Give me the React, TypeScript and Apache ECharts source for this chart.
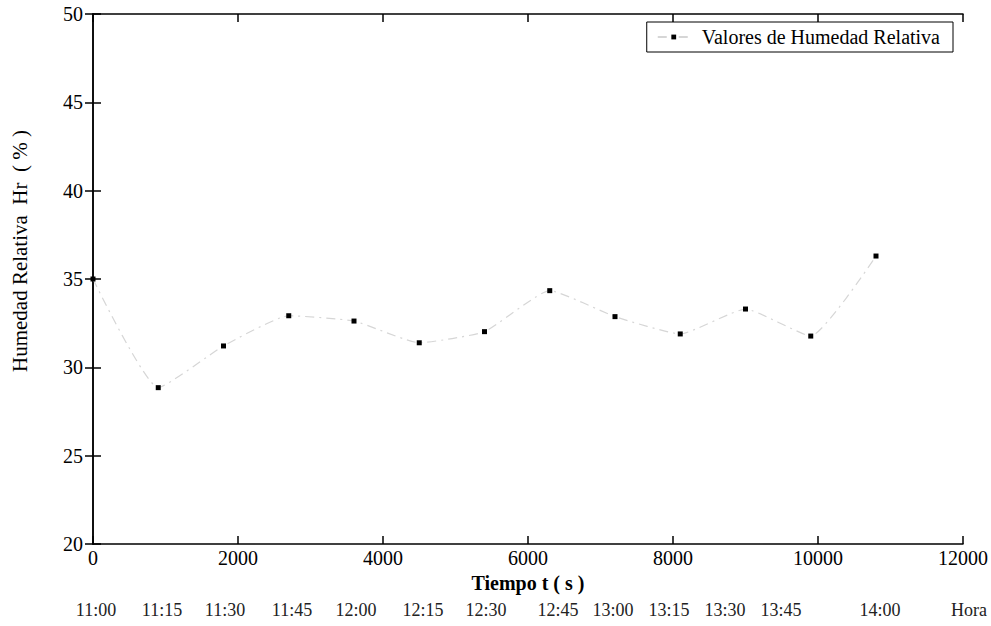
import React, { useEffect, useRef } from "react";
import * as echarts from "echarts";

const timeSeconds = [0, 900, 1800, 2700, 3600, 4500, 5400, 6300, 7200, 8100, 9000, 9900, 10800];
const humidity = [35.0, 28.85, 31.21, 32.92, 32.62, 31.39, 32.02, 34.34, 32.87, 31.89, 33.3, 31.77, 36.3];
const hourLabels = ["11:00", "11:15", "11:30", "11:45", "12:00", "12:15", "12:30", "12:45", "13:00", "13:15", "13:30", "13:45", "14:00", "Hora"];
const hourLabelX = [96, 162, 225, 292, 356, 423, 486, 558, 613, 669, 725, 781, 880, 969];

const seriesName = "Valores de Humedad Relativa";
const xTitle = "Tiempo t ( s )";
const yTitle = "Humedad Relativa  Hr  ( % )";

const FONT = "Liberation Serif";

export default function App() {
  const ref = useRef<HTMLDivElement>(null);
  useEffect(() => {
    if (!ref.current) return;
    const chart = echarts.init(ref.current, null, { renderer: "svg" });
    const axisLine = { show: true, lineStyle: { color: "#000", width: 1.5 } };
    const tick = { show: true, inside: true, length: 8, lineStyle: { color: "#000", width: 1.5 } };
    const data = timeSeconds.map((t, i) => [t, humidity[i]]);
    chart.setOption({
      animation: false,
      backgroundColor: "#fff",
      textStyle: { fontFamily: FONT },
      grid: { left: 93, right: 28, top: 14, bottom: 82, containLabel: false },
      legend: {
        data: [seriesName],
        right: 38,
        top: 22,
        padding: [4, 13, 4, 10],
        borderColor: "#000",
        borderWidth: 1,
        borderRadius: 0,
        backgroundColor: "#fff",
        itemWidth: 32,
        itemHeight: 6,
        textStyle: { fontFamily: FONT, fontSize: 20, color: "#000", padding: [0, 0, 0, 7], lineHeight: 22 },
      },
      xAxis: [
        {
          type: "value",
          position: "bottom",
          min: 0,
          max: 12000,
          interval: 2000,
          axisLine,
          axisTick: tick,
          splitLine: { show: false },
          axisLabel: { color: "#000", fontFamily: FONT, fontSize: 20, margin: 4, formatter: (v: number) => String(v) },
          name: xTitle,
          nameLocation: "middle",
          nameGap: 28,
          nameTextStyle: { color: "#000", fontFamily: FONT, fontSize: 20, fontWeight: "bold" },
        },
        {
          type: "value",
          position: "top",
          min: 0,
          max: 12000,
          interval: 2000,
          axisLine,
          axisTick: tick,
          splitLine: { show: false },
          axisLabel: { show: false },
        },
      ],
      yAxis: [
        {
          type: "value",
          position: "left",
          min: 20,
          max: 50,
          interval: 5,
          axisLine,
          axisTick: tick,
          splitLine: { show: false },
          axisLabel: { color: "#000", fontFamily: FONT, fontSize: 20, margin: 10 },
        },
        {
          type: "value",
          position: "right",
          min: 20,
          max: 50,
          interval: 5,
          axisLine,
          axisTick: tick,
          splitLine: { show: false },
          axisLabel: { show: false },
        },
      ],
      series: [
        {
          name: seriesName,
          type: "line",
          data,
          smooth: 0.15,
          symbol: "rect",
          symbolSize: 5,
          showAllSymbol: true,
          itemStyle: { color: "#000" },
          lineStyle: { color: "#d6d6d6", width: 1.2, type: [9, 5, 2, 5] },
          z: 3,
        },
      ],
      graphic: [
        {
          type: "text",
          x: 20,
          y: 251,
          rotation: Math.PI / 2,
          style: {
            text: yTitle,
            fontFamily: FONT,
            fontSize: 21,
            fill: "#000",
            textAlign: "center",
            textVerticalAlign: "middle",
          },
        },
        ...hourLabels.map((h, i) => ({
          type: "text",
          x: hourLabelX[i],
          y: 610,
          style: {
            text: h,
            fontFamily: FONT,
            fontSize: 18,
            fill: "#222",
            textAlign: "center",
            textVerticalAlign: "middle",
          },
        })),
      ],
    });
    return () => chart.dispose();
  }, []);
  return <div ref={ref} style={{ width: 991, height: 626, position: "absolute", left: 0, top: 0 }} />;
}
